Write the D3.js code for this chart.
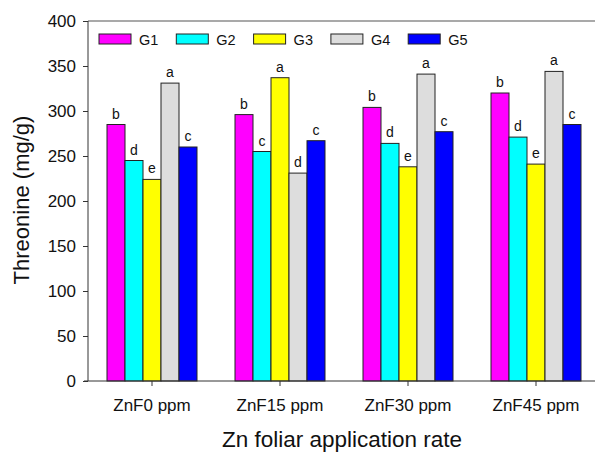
<!DOCTYPE html>
<html>
<head>
<meta charset="utf-8">
<script src="https://cdn.jsdelivr.net/npm/d3@7"></script>
<style>
  body { margin: 0; background: #fff; }
  svg { display: block; font-family: "Liberation Sans", Arial, sans-serif; }
</style>
</head>
<body>
<div id="chart"></div>
<script>
const rates = ["ZnF0 ppm", "ZnF15 ppm", "ZnF30 ppm", "ZnF45 ppm"]
const groups = ["G1", "G2", "G3", "G4", "G5"]
const G1 = [285, 296, 304, 320]
const G2 = [245, 255, 264, 271]
const G3 = [224, 337, 238, 241]
const G4 = [331, 231, 341, 344]
const G5 = [260, 267, 277, 285]
const letters = [
  ["b", "d", "e", "a", "c"],
  ["b", "c", "a", "d", "c"],
  ["b", "d", "e", "a", "c"],
  ["b", "d", "e", "a", "c"]
]
const yTicks = [0, 50, 100, 150, 200, 250, 300, 350, 400]
const colors = ["#ff00ff", "#00ffff", "#ffff00", "#dddddd", "#0000ff"]

const W = 595, H = 454
const M = {left: 88, top: 21, right: -5, bottom: 73}
const innerW = W - M.left - M.right
const innerH = H - M.top - M.bottom

const series = [G1, G2, G3, G4, G5]

const svg = d3.select("#chart").append("svg")
    .attr("width", W)
    .attr("height", H)

const g = svg.append("g").attr("transform", `translate(${M.left},${M.top})`)

const x0 = d3.scaleBand().domain(rates).range([0, innerW]).paddingInner(0).paddingOuter(0)
const x1 = d3.scaleBand().domain(groups).range([0, 90])
const y = d3.scaleLinear().domain([0, 400]).range([innerH, 0])

// top frame line
g.append("line")
    .attr("x1", 0).attr("x2", innerW)
    .attr("y1", 0).attr("y2", 0)
    .attr("stroke", "#555").attr("stroke-width", 1.2)

// bars
const grp = g.selectAll(".grp")
    .data(rates).enter()
    .append("g")
    .attr("transform", d => `translate(${x0(d) + x0.bandwidth() / 2 - 45},0)`)

grp.selectAll("rect")
    .data((d, i) => groups.map((s, j) => ({s, v: series[j][i], c: colors[j], l: letters[i][j]})))
    .enter().append("rect")
    .attr("x", d => x1(d.s))
    .attr("width", x1.bandwidth())
    .attr("y", d => y(d.v))
    .attr("height", d => y(0) - y(d.v))
    .attr("fill", d => d.c)
    .attr("stroke", "#222")
    .attr("stroke-width", 1)

grp.selectAll("text")
    .data((d, i) => groups.map((s, j) => ({s, v: series[j][i], l: letters[i][j]})))
    .enter().append("text")
    .attr("x", d => x1(d.s) + x1.bandwidth() / 2)
    .attr("y", d => y(d.v) - 6)
    .attr("text-anchor", "middle")
    .attr("font-size", 14)
    .attr("fill", "#111")
    .text(d => d.l)

// axes
const yAxis = g.append("g")
    .call(d3.axisLeft(y).tickValues(yTicks).tickSize(5).tickPadding(7))
yAxis.selectAll("text").attr("font-size", 17).attr("fill", "#111")
yAxis.selectAll("line,path").attr("stroke", "#333")
yAxis.select(".domain").attr("d", `M0,${innerH}V0`)

const xAxis = g.append("g")
    .attr("transform", `translate(0,${innerH})`)
    .call(d3.axisBottom(x0).tickSize(5))
xAxis.selectAll("text").attr("font-size", 17).attr("fill", "#111")
    .attr("dy", null).attr("y", 30)
xAxis.selectAll("line,path").attr("stroke", "#333")
xAxis.select(".domain").attr("d", `M-4,0H${innerW}`)

// axis titles
svg.append("text")
    .attr("transform", `translate(28.5,200) rotate(-90)`)
    .attr("text-anchor", "middle")
    .attr("font-size", 22)
    .attr("fill", "#111")
    .text("Threonine (mg/g)")

svg.append("text")
    .attr("x", 342)
    .attr("y", 447)
    .attr("text-anchor", "middle")
    .attr("font-size", 22.5)
    .attr("fill", "#111")
    .text("Zn foliar application rate")

// legend
const legend = svg.append("g").attr("transform", "translate(99,34)")
const li = legend.selectAll("g")
    .data(groups).enter()
    .append("g")
    .attr("transform", (d, i) => `translate(${i * 77.3},0)`)
li.append("rect")
    .attr("width", 32).attr("height", 10)
    .attr("fill", (d, i) => colors[i])
    .attr("stroke", "#222")
li.append("text")
    .attr("x", 40).attr("y", 10.5)
    .attr("font-size", 14.5)
    .attr("fill", "#111")
    .text(d => d)
</script>
</body>
</html>
